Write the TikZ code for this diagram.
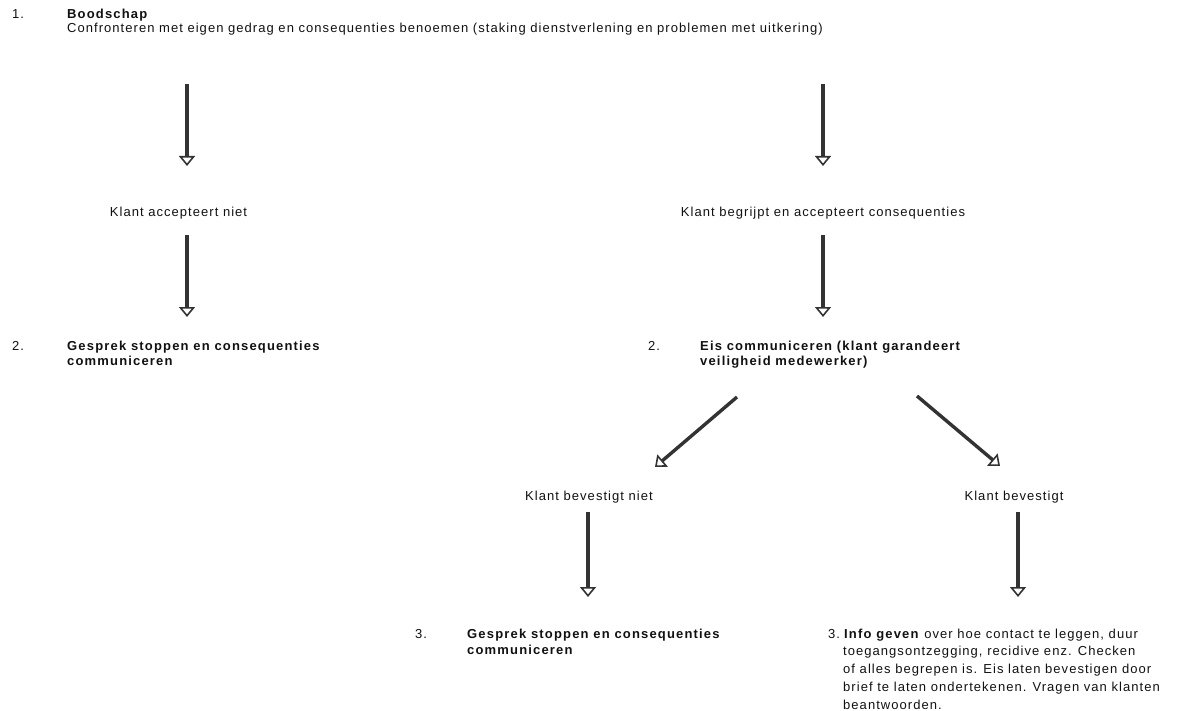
\documentclass[tikz,border=0pt]{standalone}
\usepackage{fontspec}
\setmainfont{Liberation Sans}[LetterSpace=8, BoldFeatures={LetterSpace=9}]
\usetikzlibrary{arrows.meta}
\definecolor{arrowgray}{HTML}{333333}
\definecolor{txtcol}{HTML}{111111}
\begin{document}
\begin{tikzpicture}[x=1pt,y=-1pt,
  txt/.style={inner sep=0pt, anchor=base west, font=\fontsize{13}{15}\selectfont, text=txtcol},
  ctxt/.style={inner sep=0pt, anchor=base, font=\fontsize{13}{15}\selectfont, text=txtcol},
  btxt/.style={txt, font=\fontsize{13}{15}\selectfont\bfseries},
  flow/.style={line width=3.4pt, draw=arrowgray,
    -{Triangle[open, width=16pt, length=10pt, line width=1.6pt, fill=white]}}]
\useasboundingbox (0,0) rectangle (1180,711);
% level 1
\node[txt]  (n1)  at (12,19) {1.};
\node[btxt] (b1)  at (67,19) {Boodschap};
\node[txt]  (b1b) at (67,33) {Confronteren met eigen gedrag en consequenties benoemen (staking dienstverlening en problemen met uitkering)};
% arrows from message
\coordinate (a1s) at (187,84);  \coordinate (a1e) at (187,166);
\coordinate (a2s) at (823,84);  \coordinate (a2e) at (823,166);
\draw[flow] (a1s) -- (a1e);
\draw[flow] (a2s) -- (a2e);
% responses
\node[ctxt] (kan) at (178.5,217) {Klant accepteert niet};
\node[ctxt] (kba) at (823,217) {Klant begrijpt en accepteert consequenties};
\coordinate (a3s) at (187,235);  \coordinate (a3e) at (187,317);
\coordinate (a4s) at (823,235);  \coordinate (a4e) at (823,317);
\draw[flow] (a3s) -- (a3e);
\draw[flow] (a4s) -- (a4e);
% level 2
\node[txt]  (n2l) at (12,350) {2.};
\node[btxt] (g2a) at (67,350) {Gesprek stoppen en consequenties};
\node[btxt] (g2b) at (67,365) {communiceren};
\node[txt]  (n2r) at (648,350) {2.};
\node[btxt] (e2a) at (700,350) {Eis communiceren (klant garandeert};
\node[btxt] (e2b) at (700,365) {veiligheid medewerker)};
% diagonal arrows
\coordinate (a5s) at (737,397);  \coordinate (a5e) at (655,467);
\coordinate (a6s) at (917,396);  \coordinate (a6e) at (1000,466);
\draw[flow] (a5s) -- (a5e);
\draw[flow] (a6s) -- (a6e);
% confirmations
\node[ctxt] (kbn) at (589,500) {Klant bevestigt niet};
\node[ctxt] (kb)  at (1014,500) {Klant bevestigt};
\coordinate (a7s) at (588,512);  \coordinate (a7e) at (588,597);
\coordinate (a8s) at (1018,512); \coordinate (a8e) at (1018,597);
\draw[flow] (a7s) -- (a7e);
\draw[flow] (a8s) -- (a8e);
% level 3
\node[txt]  (n3l) at (415,638) {3.};
\node[btxt] (g3a) at (467,638) {Gesprek stoppen en consequenties};
\node[btxt] (g3b) at (467,654) {communiceren};
\node[txt]  (n3r) at (828,638) {3.};
\node[txt]  (i1)  at (844,638) {\textbf{Info geven} over hoe contact te leggen, duur};
\node[txt]  (i2)  at (843,655) {toegangsontzegging, recidive enz. Checken};
\node[txt]  (i3)  at (843,673) {of alles begrepen is. Eis laten bevestigen door};
\node[txt]  (i4)  at (843,691) {brief te laten ondertekenen. Vragen van klanten};
\node[txt]  (i5)  at (843,709) {beantwoorden.};
\end{tikzpicture}
\end{document}
